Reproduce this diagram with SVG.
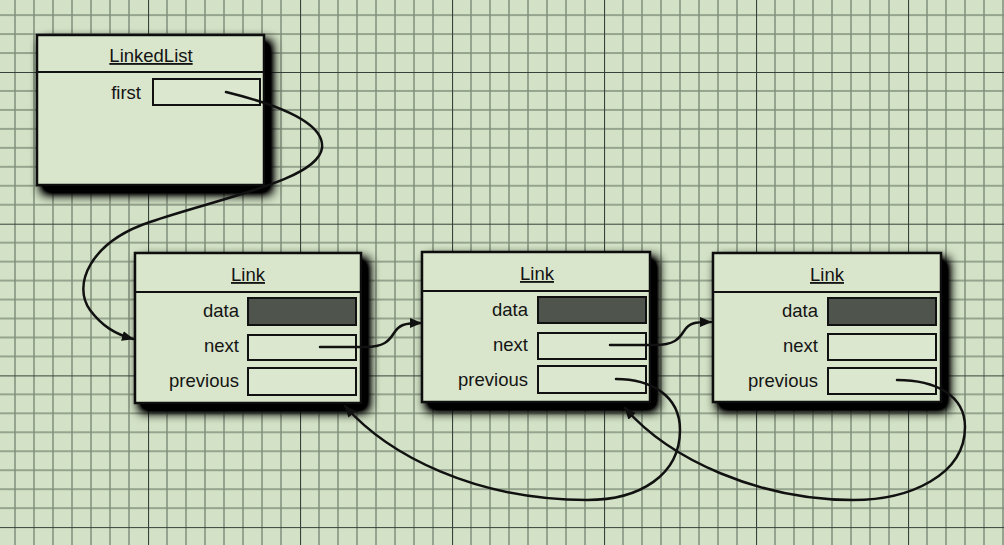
<svg xmlns="http://www.w3.org/2000/svg" width="1004" height="545" viewBox="0 0 1004 545">
<style>
.bg{fill:#d3e2c6}
.minor{stroke:#808f7b;stroke-width:1.5}
.major{stroke:#36423a;stroke-width:2.2}
.box{fill:#d9e6cc;stroke:#111;stroke-width:2.5}
.div{stroke:#111;stroke-width:2}
.field{fill:#dbe7ce;stroke:#111;stroke-width:2}
.data{fill:#4f554c;stroke:#111;stroke-width:2}
text{font-family:"Liberation Sans",Arial,Helvetica,sans-serif;font-size:18.5px;fill:#141414}
.title{text-anchor:middle;text-decoration:underline}
.lbl{text-anchor:end}
.conn{fill:none;stroke:#111;stroke-width:2.5;stroke-linecap:round}
</style>
<defs>
<pattern id="grid" patternUnits="userSpaceOnUse" x="148" y="72" width="152" height="151.7">
<g class="minor">
<line x1="19" y1="0" x2="19" y2="151.7"/><line x1="38" y1="0" x2="38" y2="151.7"/><line x1="57" y1="0" x2="57" y2="151.7"/><line x1="76" y1="0" x2="76" y2="151.7"/><line x1="95" y1="0" x2="95" y2="151.7"/><line x1="114" y1="0" x2="114" y2="151.7"/><line x1="133" y1="0" x2="133" y2="151.7"/>
<line x1="0" y1="18.96" x2="152" y2="18.96"/><line x1="0" y1="37.92" x2="152" y2="37.92"/><line x1="0" y1="56.89" x2="152" y2="56.89"/><line x1="0" y1="75.85" x2="152" y2="75.85"/><line x1="0" y1="94.81" x2="152" y2="94.81"/><line x1="0" y1="113.77" x2="152" y2="113.77"/><line x1="0" y1="132.74" x2="152" y2="132.74"/>
</g>
<g class="major"><line x1="0" y1="0" x2="0" y2="151.7"/><line x1="0" y1="0" x2="152" y2="0"/></g>
</pattern>
<filter id="shadow" x="-15%" y="-15%" width="135%" height="145%">
<feGaussianBlur in="SourceAlpha" stdDeviation="6"/>
<feOffset dx="6" dy="7" result="b"/>
<feComponentTransfer in="b" result="s"><feFuncA type="linear" slope="1.9"/></feComponentTransfer>
<feMerge><feMergeNode in="s"/><feMergeNode in="SourceGraphic"/></feMerge>
</filter>
<marker id="arrow" viewBox="0 0 12 10" refX="11" refY="5" markerWidth="12" markerHeight="10" markerUnits="userSpaceOnUse" orient="auto">
<path d="M0,0 L12,5 L0,10 Z" fill="#111"/>
</marker>
</defs>
<rect class="bg" x="0" y="0" width="1004" height="545"/>
<rect x="0" y="0" width="1004" height="545" fill="url(#grid)"/>

<g id="linkedlist">
<rect class="box" x="37" y="35" width="227" height="150" filter="url(#shadow)"/>
<line class="div" x1="37" y1="72" x2="264" y2="72"/>
<text class="title" x="151" y="62">LinkedList</text>
<text class="lbl" x="141" y="99">first</text>
<rect class="field" x="153" y="79" width="107" height="26"/>
</g>

<g id="link1">
<rect class="box" x="135" y="253" width="226" height="150" filter="url(#shadow)"/>
<line class="div" x1="135" y1="292" x2="361" y2="292"/>
<text class="title" x="248" y="281">Link</text>
<text class="lbl" x="239" y="317">data</text>
<text class="lbl" x="239" y="352">next</text>
<text class="lbl" x="239" y="387">previous</text>
<rect class="data" x="248" y="298" width="108" height="27"/>
<rect class="field" x="248" y="335" width="108" height="25"/>
<rect class="field" x="248" y="368" width="108" height="27"/>
</g>

<g id="link2">
<rect class="box" x="422" y="252" width="228" height="150" filter="url(#shadow)"/>
<line class="div" x1="422" y1="291" x2="650" y2="291"/>
<text class="title" x="537" y="280">Link</text>
<text class="lbl" x="528" y="316">data</text>
<text class="lbl" x="528" y="351">next</text>
<text class="lbl" x="528" y="386">previous</text>
<rect class="data" x="538" y="297" width="108" height="26"/>
<rect class="field" x="538" y="333" width="108" height="26"/>
<rect class="field" x="538" y="366" width="108" height="27"/>
</g>

<g id="link3">
<rect class="box" x="713" y="253" width="228" height="149" filter="url(#shadow)"/>
<line class="div" x1="713" y1="292" x2="941" y2="292"/>
<text class="title" x="827" y="281">Link</text>
<text class="lbl" x="818" y="317">data</text>
<text class="lbl" x="818" y="352">next</text>
<text class="lbl" x="818" y="387">previous</text>
<rect class="data" x="828" y="298" width="108" height="27"/>
<rect class="field" x="828" y="334" width="108" height="26"/>
<rect class="field" x="828" y="368" width="108" height="26"/>
</g>

<g id="connectors">
<path class="conn" marker-end="url(#arrow)" d="M226,92 C275,104 325,122 322,148 C318,180 220,198 150,222 C90,242 72,285 90,310 C102,326 115,334 133,339"/>
<path class="conn" marker-end="url(#arrow)" d="M320,347 L365,347 C384,347 389,341 394,333 C399,325 404,323 421,323"/>
<path class="conn" marker-end="url(#arrow)" d="M610,345 L655,345 C674,345 679,339 684,331 C689,323 694,322 711,322"/>
<path class="conn" marker-end="url(#arrow)" d="M616,379 C650,379 680,395 680,430 C680,475 640,500 587,500 C475,500 388,455 345,406"/>
<path class="conn" marker-end="url(#arrow)" d="M897,380 C935,380 965,395 965,427 C965,475 910,500 853,500 C760,500 670,460 625,408"/>
</g>
</svg>
